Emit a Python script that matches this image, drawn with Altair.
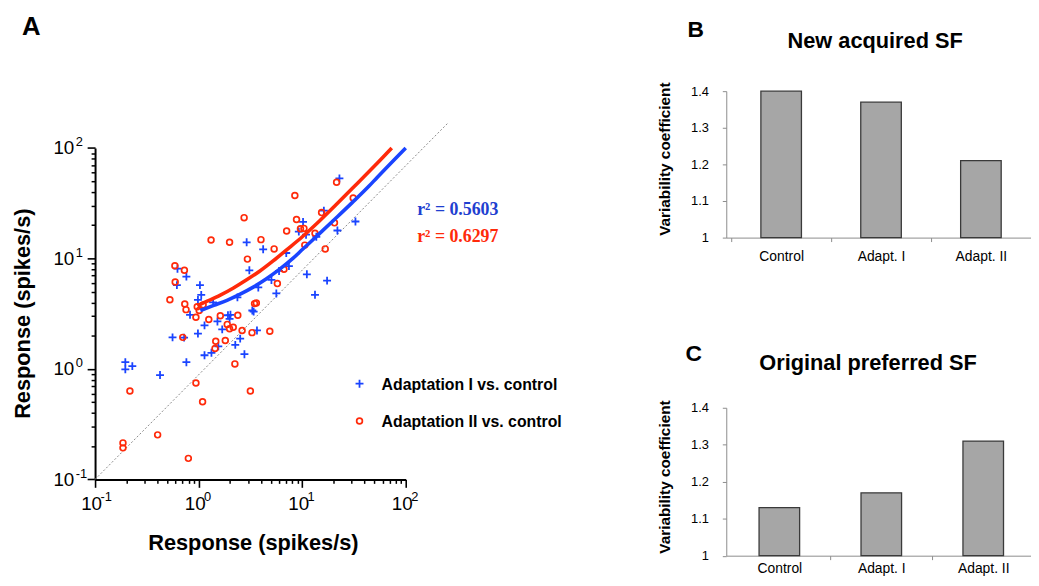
import json
import altair as alt
import pandas as pd

# ---------------- data ----------------
blue_x = [0.196, 0.196, 0.229, 0.424, 0.56, 0.762, 0.625, 0.617, 0.762, 0.826,
          0.985, 1.03, 1.06, 0.985, 1.14, 1.14, 1.33, 1.38, 1.52, 1.55,
          1.69, 1.92, 1.99, 2.03, 2.26, 2.52, 2.37, 2.77, 2.91, 3.09,
          3.30, 3.40, 3.66, 3.77, 4.20, 5.05, 5.63, 5.98, 7.02, 7.45,
          9.28, 10.2, 11.1, 13.3, 13.7, 16.2, 17.4, 21.9, 22.9, 32.7,
          10.9, 0.724]
blue_y = [1.15, 0.99, 1.06, 0.88, 1.93, 1.15, 8.07, 5.73, 6.84, 3.09,
          4.21, 5.73, 4.67, 2.09, 2.48, 1.33, 1.40, 4.0, 2.69, 1.60,
          2.28, 3.06, 2.84, 3.09, 1.65, 1.88, 4.44, 1.36, 14.0, 7.81,
          3.38, 3.30, 2.23, 5.46, 12.1, 6.39, 4.82, 7.70, 11.2, 8.53,
          17.5, 21.4, 7.19, 4.69, 15.7, 27.1, 6.30, 17.9, 53.1, 21.6,
          16.4, 1.92]
red_x = [0.186, 0.186, 0.217, 0.402, 0.528, 0.590, 0.594, 0.703, 0.729, 0.735,
         0.756, 0.796, 0.942, 0.942, 0.970, 1.013, 1.106, 1.092, 1.254, 1.319,
         1.464, 1.44, 1.62, 1.81, 1.89, 1.99, 1.99, 2.16, 2.24, 2.39,
         2.63, 2.75, 2.96, 3.16, 3.28, 3.47, 3.61, 4.00, 4.87, 5.36,
         5.76, 6.67, 7.08, 8.50, 8.82, 9.63, 10.4, 10.6, 13.3, 15.4,
         16.7, 20.5, 21.5, 31.1]
red_y = [0.214, 0.193, 0.631, 0.253, 4.23, 8.59, 6.13, 1.93, 7.81, 3.87,
         3.44, 0.155, 2.94, 0.745, 3.66, 3.38, 3.80, 0.504, 2.80, 14.7,
         1.78, 1.53, 3.03, 1.81, 2.53, 2.31, 14.0, 2.38, 1.11, 3.06,
         2.23, 23.4, 9.86, 0.631, 2.13, 3.90, 3.95, 14.8, 2.19, 12.2,
         5.92, 7.97, 17.7, 37.1, 22.5, 18.6, 18.7, 13.2, 16.9, 26.0,
         12.2, 21.0, 48.9, 35.2]

blue_fit_x = [1.04, 1.4, 1.88, 2.52, 3.37, 4.52, 6.07, 8.13, 10.1, 14.6, 21.1, 30.4, 44.0, 52.7, 100]
blue_fit_y = [3.38, 3.76, 4.18, 4.75, 5.5, 6.55, 8.0, 10.0, 12.1, 16.7, 23.1, 32.0, 45.0, 53.8, 100]
red_fit_x = [0.97, 1.21, 1.62, 2.17, 2.91, 3.91, 5.24, 7.02, 10.1, 14.6, 21.1, 30.4, 44.0, 52.7, 73.3]
red_fit_y = [3.74, 4.1, 4.65, 5.4, 6.4, 7.7, 9.5, 11.9, 15.8, 21.7, 30.4, 42.9, 60.8, 72.3, 100]

diag_x = [0.1, 257]
diag_y = [0.1, 169]

major_ticks = [0.1, 1, 10, 100]
minor_ticks = [0.2, 0.3, 0.4, 0.5, 0.6, 0.7, 0.8, 0.9,
               2, 3, 4, 5, 6, 7, 8, 9,
               20, 30, 40, 50, 60, 70, 80, 90]

legend_labels = ["Adaptation I vs. control", "Adaptation II vs. control"]
r2_labels = ["r\u00b2 = 0.5603", "r\u00b2 = 0.6297"]

categories = ["Control", "Adapt. I", "Adapt. II"]
new_sf = [1.40, 1.37, 1.21]
orig_sf = [1.13, 1.17, 1.31]
bar_base = [1.0, 1.0, 1.0]
bar_ticks = [1.0, 1.1, 1.2, 1.3, 1.4]

# ---------------- styling ----------------
BLUE = "#1a44ff"
BLUE_TXT = "#1f3fd0"
RED = "#ff2a0a"
BAR = "#a6a6a6"
BAR_EDGE = "#3a3a3a"
AXG = "#8c8c8c"
SANS = "Liberation Sans"
SERIF = "Liberation Serif"
CROSS = "M-1,0L1,0M0,-1L0,1"

W_S = 314
TOP_OFF = 57.4                 # plot A starts lower than plots B/C
H_S = 335 + TOP_OFF


def text_mark(txt, x, y, size, color="black", font=SANS, bold=True, align="center", angle=0,
              baseline="middle"):
    return alt.Chart(pd.DataFrame({"t": [txt]})).mark_text(
        font=font, fontSize=size, fontWeight="bold" if bold else "normal", color=color,
        align=align, baseline=baseline, angle=angle
    ).encode(x=alt.value(x), y=alt.value(y), text="t:N")


def spacer(x, y):
    return alt.Chart(pd.DataFrame({"t": [0]})).mark_rule(color="white", strokeWidth=0.5).encode(
        x=alt.value(x), x2=alt.value(x + 1), y=alt.value(y), y2=alt.value(y))


# ---------------- panel A ----------------
xs = alt.Scale(type="log", domain=[0.1, 100], nice=False)
ys = alt.Scale(type="log", domain=[0.1, 100], nice=False, range=[H_S, TOP_OFF])
exp_expr = ("datum.value < 0.5 ? '-1' : datum.value < 5 ? '0' : "
            "datum.value < 50 ? '1' : '2'")

major_x = alt.Axis(values=major_ticks, labelExpr="'10'", orient="bottom", title=None, grid=False,
                   tickSize=8, tickWidth=1.6, tickColor="black", domainColor="black", domainWidth=2,
                   labelFont=SANS, labelFontSize=19, labelColor="black", labelPadding=7,
                   labelOffset=-4, labelFlush=False, labelOverlap=False, labelBaseline="top")
major_y = alt.Axis(values=major_ticks, labelExpr="'10'", orient="left", title=None, grid=False,
                   tickSize=8, tickWidth=1.6, tickColor="black", domainColor="black", domainWidth=2,
                   labelFont=SANS, labelFontSize=19, labelColor="black", labelPadding=13.5,
                   labelAlign="right", labelBaseline="middle",
                   labelFlush=False, labelOverlap=False)
minor_x = alt.Axis(values=minor_ticks, labels=False, domain=False, orient="bottom", title=None,
                   grid=False, tickSize=4, tickWidth=1.5, tickColor="black")
minor_y = alt.Axis(values=minor_ticks, labels=False, domain=False, orient="left", title=None,
                   grid=False, tickSize=4, tickWidth=1.5, tickColor="black")
exp_x = alt.Axis(values=major_ticks, labelExpr=exp_expr, orient="bottom", title=None, grid=False,
                 domain=False, tickSize=8, tickOpacity=0, labelFont=SANS, labelFontSize=13,
                 labelColor="black", labelPadding=3.5, labelAlign="left", labelOffset=5,
                 labelBaseline="top", labelFlush=False, labelOverlap=False)
exp_y = alt.Axis(values=major_ticks, labelExpr=exp_expr, orient="left", title=None, grid=False,
                 domain=False, tickSize=8, tickOpacity=0, labelFont=SANS, labelFontSize=13,
                 labelColor="black", labelPadding=12, labelAlign="left", labelOffset=-6,
                 labelBaseline="middle", labelFlush=False, labelOverlap=False)

diag_df = pd.DataFrame({"x": diag_x, "y": diag_y})
blue_df = pd.DataFrame({"x": blue_x, "y": blue_y})
red_df = pd.DataFrame({"x": red_x, "y": red_y})
bfit_df = pd.DataFrame({"x": blue_fit_x, "y": blue_fit_y})
rfit_df = pd.DataFrame({"x": red_fit_x, "y": red_fit_y})

diag = alt.Chart(diag_df).mark_line(color="#8a8a8a", strokeWidth=1, strokeDash=[2, 2]).encode(
    x=alt.X("x:Q", scale=xs, axis=major_x), y=alt.Y("y:Q", scale=ys, axis=major_y))
blue_pts = alt.Chart(blue_df).mark_point(shape=CROSS, size=64, strokeWidth=1.8, color=BLUE,
                                         filled=False, opacity=1).encode(
    x=alt.X("x:Q", scale=xs, axis=minor_x), y=alt.Y("y:Q", scale=ys, axis=minor_y))
red_pts = alt.Chart(red_df).mark_point(shape="circle", size=34, strokeWidth=1.7, color=RED,
                                       filled=False, opacity=1).encode(
    x=alt.X("x:Q", scale=xs, axis=exp_x), y=alt.Y("y:Q", scale=ys, axis=exp_y))
bfit = alt.Chart(bfit_df).mark_line(color=BLUE, strokeWidth=3.6, interpolate="monotone").encode(
    x=alt.X("x:Q", scale=xs, axis=None), y=alt.Y("y:Q", scale=ys, axis=None))
rfit = alt.Chart(rfit_df).mark_line(color=RED, strokeWidth=3.6, interpolate="monotone").encode(
    x=alt.X("x:Q", scale=xs, axis=None), y=alt.Y("y:Q", scale=ys, axis=None))

leg_blue = alt.Chart(pd.DataFrame({"t": [0]})).mark_point(
    shape=CROSS, size=64, strokeWidth=1.8, color=BLUE, filled=False, opacity=1).encode(
    x=alt.value(267.3), y=alt.value(238.3 + TOP_OFF))
leg_red = alt.Chart(pd.DataFrame({"t": [0]})).mark_point(
    shape="circle", size=34, strokeWidth=1.7, color=RED, filled=False, opacity=1).encode(
    x=alt.value(267.3), y=alt.value(276 + TOP_OFF))

panel_a = alt.layer(
    diag, blue_pts, red_pts, rfit, bfit, leg_blue, leg_red,
    text_mark(legend_labels[0], 289.6, 239.5 + TOP_OFF, 16, align="left"),
    text_mark(legend_labels[1], 289.6, 277 + TOP_OFF, 16, align="left"),
    text_mark(r2_labels[0], 325.6, 62.3 + TOP_OFF, 18, color=BLUE_TXT, font=SERIF, align="left"),
    text_mark(r2_labels[1], 325.6, 90.3 + TOP_OFF, 18, color=RED, font=SERIF, align="left"),
    text_mark("A", -64.5, -56.6, 26, baseline="alphabetic"),
    text_mark("Response (spikes/s)", -73, 167.5 + TOP_OFF, 22, angle=270),
    text_mark("Response (spikes/s)", 160, 399.3 + TOP_OFF, 22),
    spacer(-87, -80.3),
    spacer(485, TOP_OFF),
).properties(width=W_S, height=H_S).resolve_axis(x="independent", y="independent")


# ---------------- panels B and C ----------------
cat_expr = json.dumps(categories) + "[round(datum.value)]"


def bar_panel(vals, letter, title, letter_xy, title_xy, ytitle_xy, top_y, bottom_y,
              w, h, x_dom, band_edges, lab_pad):
    df = pd.DataFrame({"cat": categories, "pos": list(range(len(categories))),
                       "v": vals, "base": bar_base})
    xsc = alt.Scale(domain=x_dom, nice=False, zero=False)
    ysc = alt.Scale(domain=[1, 1.4], nice=False, zero=False)
    lab_axis = alt.Axis(values=list(range(len(categories))), labelExpr=cat_expr, title=None,
                        orient="bottom", grid=False, tickSize=4, tickOpacity=0,
                        domainColor=AXG, domainWidth=1,
                        labelFont=SANS, labelFontSize=14, labelColor="black",
                        labelPadding=lab_pad, labelAngle=0, labelFlush=False, labelOverlap=False,
                        labelBaseline="top")
    edge_axis = alt.Axis(values=band_edges, labels=False, domain=False, title=None, grid=False,
                         orient="bottom", tickSize=4, tickColor=AXG, tickWidth=1)
    y_axis = alt.Axis(values=bar_ticks, format=".1~f", tickSize=4, tickColor=AXG, orient="left",
                      domainColor=AXG, domainWidth=1, labelFont=SANS, labelFontSize=13,
                      labelColor="black", labelPadding=14, grid=False, title=None)
    bars = alt.Chart(df).mark_bar(color=BAR, stroke=BAR_EDGE, strokeWidth=1.3, size=41).encode(
        x=alt.X("pos:Q", scale=xsc, axis=lab_axis),
        y=alt.Y("v:Q", scale=ysc, axis=y_axis),
        y2="base:Q",
    )
    edges = alt.Chart(df).mark_point(opacity=0, size=1).encode(
        x=alt.X("pos:Q", scale=xsc, axis=edge_axis),
        y=alt.value(h / 2),
    )
    layers = [bars, edges,
              text_mark(letter, letter_xy[0], letter_xy[1], 23, baseline="alphabetic"),
              text_mark(title, title_xy[0], title_xy[1], 22, baseline="alphabetic"),
              text_mark("Variability coefficient", ytitle_xy[0], ytitle_xy[1], 15.5, angle=270),
              spacer(-75, top_y)]
    if bottom_y is not None:
        layers.append(spacer(0, bottom_y))
    return alt.layer(*layers).properties(width=w, height=h).resolve_axis(x="independent")


panel_b = bar_panel(new_sf, "B", "New acquired SF", (-31, -55), (150.5, -44), (-62, 68.7),
                    -80.3, 181.7, 308, 148, [-0.5, 2.452], [-0.5, 0.5, 1.5], 8)
panel_c = bar_panel(orig_sf, "C", "Original preferred SF", (-33, -47.3), (143.3, -38.3), (-62, 70),
                    -72.3, None, 308, 149.5, [-0.472, 2.42], [0.5, 1.5], 2.5)

right = alt.vconcat(panel_b, panel_c, spacing=65)

chart = alt.hconcat(panel_a, right, spacing=75).properties(
    padding={"left": 0, "top": 0, "right": 0, "bottom": 0}
).configure(background="white", view=alt.ViewConfig(stroke=None))

chart.save("out.html", embed_options={"renderer": "svg", "actions": False})
